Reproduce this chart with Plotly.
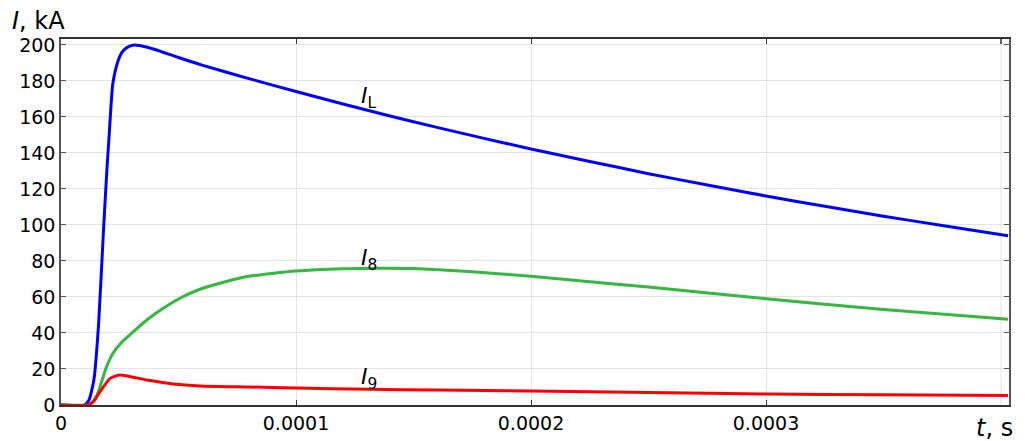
import plotly.graph_objects as go

# time in microseconds (converted to seconds for plotting)
t_L_us = [0, 10, 12, 14, 16, 18, 19.5, 20.5, 22, 24, 26, 28, 31, 34, 40, 50, 60, 80, 100,
          120, 140, 160, 180, 200, 225, 250, 275, 300, 325, 350, 375, 403]
i_L = [0, 0, 3, 14, 45, 95, 130, 150, 178, 190, 196, 198.5, 200, 199.5, 197.5, 193, 188.8,
       181.3, 174.1, 167.2, 160.5, 154.2, 148.1, 142.2, 135.3, 128.5, 122.2, 116.1, 110.4,
       104.9, 99.7, 94.0]

t_8_us = [0, 11.5, 12.3, 14.5, 16.6, 19.4, 22, 25.5, 30.8, 36.5, 43.5, 50.6, 59.1, 70, 80,
          100, 120, 136, 150, 175, 200, 225, 250, 300, 350, 403]
i_8 = [0, 0, 0.5, 2.8, 10.2, 21.3, 28.5, 34.3, 40.7, 47.2, 53.7, 59.3, 64.3, 68.5, 71.5,
       74.4, 75.7, 76.0, 75.8, 74.0, 71.5, 68.5, 65.5, 59.0, 53.0, 47.6]

t_9_us = [0, 11.5, 13.7, 16.6, 20.9, 25, 36.5, 47.8, 59, 80, 100, 131, 160, 200, 250, 300,
          350, 403]
i_9 = [0, 0, 1.9, 7.4, 14.8, 16.7, 13.9, 11.7, 10.6, 10.0, 9.4, 8.7, 8.3, 7.8, 7.0, 6.1,
       5.7, 5.3]

x_ticks = [0, 0.0001, 0.0002, 0.0003]
x_ticklabels = ["0", "0.0001", "0.0002", "0.0003"]
x_extra_grid = [0.0004]
y_ticks = [0, 20, 40, 60, 80, 100, 120, 140, 160, 180, 200]

labels = [("<i>I</i><sub>L</sub>", 0.000131, 171),
          ("<i>I</i><sub>8</sub>", 0.000131, 81),
          ("<i>I</i><sub>9</sub>", 0.000131, 14.5)]

FONT = "DejaVu Sans"
GRID = "#e4e4e4"

fig = go.Figure()
for tt, vv, col in [(t_L_us, i_L, "#0000ff"), (t_8_us, i_8, "#33b840"), (t_9_us, i_9, "#ff0000")]:
    fig.add_trace(go.Scatter(x=[v * 1e-6 for v in tt], y=vv, mode="lines",
                             line=dict(color=col, width=3, shape="spline", smoothing=0.5),
                             showlegend=False, hoverinfo="skip"))

for txt, x, y in labels:
    fig.add_annotation(x=x, y=y, text=txt, showarrow=False, xref="x", yref="y",
                       font=dict(family=FONT, size=22, color="black"),
                       xanchor="center", yanchor="middle")

for gx in x_extra_grid:
    fig.add_shape(type="line", xref="x", yref="paper", x0=gx, x1=gx, y0=0, y1=1,
                  line=dict(color=GRID, width=1), layer="below")
    fig.add_shape(type="line", xref="x", yref="paper", x0=gx, x1=gx, y0=1, y1=0.986,
                  line=dict(color="#333333", width=1.5), layer="above")

fig.add_annotation(xref="paper", yref="paper", x=-0.054, y=1.05, xanchor="left",
                   yanchor="middle", text="<i>I</i>, kA", showarrow=False,
                   font=dict(family=FONT, size=24, color="black"))
fig.add_annotation(xref="paper", yref="paper", x=1.006, y=-0.063, xanchor="right",
                   yanchor="middle", text="<i>t</i>, s", showarrow=False,
                   font=dict(family=FONT, size=24, color="black"))

fig.update_layout(
    width=1025, height=441,
    margin=dict(l=53, r=24, t=31, b=44),
    paper_bgcolor="white", plot_bgcolor="white",
    font=dict(family=FONT, size=19, color="black"),
    xaxis=dict(range=[0, 0.0004034], tickvals=x_ticks, ticktext=x_ticklabels,
               showgrid=True, gridcolor=GRID, gridwidth=1,
               showline=True, linecolor="#333333", linewidth=1.5, mirror="allticks",
               ticks="inside", ticklen=5, tickcolor="#333333", zeroline=False,
               tickfont=dict(family=FONT, size=19)),
    yaxis=dict(range=[0, 203.3], tickvals=y_ticks,
               showgrid=True, gridcolor=GRID, gridwidth=1,
               showline=True, linecolor="#555555", linewidth=1.5, mirror="allticks",
               ticks="inside", ticklen=5, tickcolor="#555555", zeroline=False,
               tickfont=dict(family=FONT, size=19)),
)

fig.write_html("out.html")
